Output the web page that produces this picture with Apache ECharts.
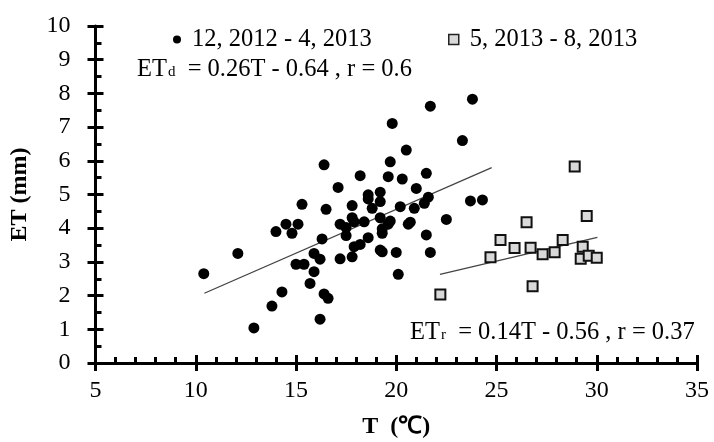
<!DOCTYPE html>
<html><head><meta charset="utf-8">
<script src="https://cdn.jsdelivr.net/npm/echarts@6/dist/echarts.min.js"></script>
<style>html,body{margin:0;padding:0;background:#fff}#c{width:714px;height:442px}</style>
</head><body><div id="c"></div>
<script>
// Dec 2012 - Apr 2013 (black dots)
const winterT = [10.4,12.1,12.9,13.8,14.3, 14.0,14.5,15.1,14.8,15.3, 16.4,16.5,16.3,15.9,16.2, 15.0,15.4,15.9,15.7,16.4,
  16.6,16.2,23.8,21.7,19.8, 23.3,20.5,19.7,18.2,19.6, 20.3,21.5,17.1,21.0,18.6, 19.2,18.6,19.2,21.6,21.4,
  17.8,23.7,24.3,20.2,18.8, 20.9,17.2,17.5,17.8,17.9, 18.4,17.5,18.6,19.2,19.3, 19.3,19.7,19.6,20.6,20.7,
  22.5,21.5,17.9,18.2,19.2, 19.3,20.0,21.7,17.2,17.8, 20.1];
const winterET = [2.65,3.25,1.04,1.69,2.11, 3.9,4.12,4.12,3.85,4.71, 5.88,4.56,3.68,3.25,3.08, 2.93,2.93,2.71,2.36,2.05,
  1.92,1.3,7.83,7.62,7.11, 6.6,6.32,5.97,5.56,5.53, 5.46,5.63,5.21,5.18,4.99, 5.07,4.87,4.79,4.92,4.74,
  4.67,4.81,4.84,4.64,4.59, 4.59,4.12,4.02,4.31,4.19, 4.19,3.78,3.72,4.31,3.98, 3.85,4.21,4.12,4.12,4.18,
  4.26,3.8,3.45,3.52,3.35, 3.3,3.28,3.28,3.09,3.15, 2.63];
// May 2013 - Aug 2013 (grey squares)
const summerT = [28.9,29.5,26.5,25.2,25.9,26.7,27.3,27.9,28.3,29.3,29.2,29.6,30.0,24.7,26.8,22.2];
const summerET = [5.83,4.36,4.18,3.65,3.41,3.42,3.23,3.29,3.65,3.45,3.09,3.18,3.12,3.14,2.28,2.03];
// fitted lines (end points)
const winterFitT = [10.43, 24.76];
const winterFitET = [2.07, 5.80];
const summerFitT = [22.18, 30.03];
const summerFitET = [2.63, 3.73];
const seriesNames = ['12, 2012 - 4, 2013', '5, 2013 - 8, 2013'];
const xRange = [5, 35, 5];
const yRange = [0, 10, 1];

const zip = (a, b) => a.map((v, i) => [v, b[i]]);
const FF = 'Liberation Serif';
const black = '#000';
const TXT = 24.5;

const baseX = {
  type: 'value', min: xRange[0], max: xRange[1], interval: xRange[2], position: 'bottom',
  splitLine: { show: false }
};
const baseY = {
  type: 'value', min: yRange[0], max: yRange[1], interval: yRange[2], position: 'left',
  splitLine: { show: false }
};

const chart = echarts.init(document.getElementById('c'), null, { renderer: 'canvas' });
chart.setOption({
  backgroundColor: '#fff',
  animation: false,
  grid: { left: 95.5, right: 17, top: 26, bottom: 79, containLabel: false, outerBoundsMode: 'none' },
  xAxis: [
    Object.assign({}, baseX, {
      axisLine: { onZero: false, lineStyle: { color: black, width: 3 } },
      axisTick: { inside: true, length: 8, lineStyle: { color: black, width: 3 } },
      minorTick: { show: true, splitNumber: 5, length: 6, lineStyle: { color: black, width: 3 } },
      axisLabel: { color: black, fontSize: 24, fontFamily: FF, margin: 16 },
      name: 'T  (\u2103)', nameLocation: 'middle', nameGap: 52,
      nameTextStyle: { color: black, fontSize: 24, fontWeight: 'bold', fontFamily: FF }
    }),
    Object.assign({}, baseX, {
      axisLine: { show: false, onZero: false },
      axisTick: { inside: false, length: 8, lineStyle: { color: black, width: 3 } },
      axisLabel: { show: false }
    })
  ],
  yAxis: [
    Object.assign({}, baseY, {
      axisLine: { onZero: false, lineStyle: { color: black, width: 3 } },
      axisTick: { inside: true, length: 8, lineStyle: { color: black, width: 3 } },
      minorTick: { show: true, splitNumber: 2, length: 6, lineStyle: { color: black, width: 3 } },
      axisLabel: { color: black, fontSize: 24, fontFamily: FF, margin: 25 },
      name: 'ET (mm)', nameLocation: 'middle', nameGap: 64, nameRotate: 90,
      nameTextStyle: { color: black, fontSize: 24, fontWeight: 'bold', fontFamily: FF }
    }),
    Object.assign({}, baseY, {
      axisLine: { show: false, onZero: false },
      axisTick: { inside: false, length: 8, lineStyle: { color: black, width: 3 } },
      axisLabel: { show: false }
    })
  ],
  legend: [
    { data: [seriesNames[0]], left: 168, top: 22, itemWidth: 8, itemHeight: 8, icon: 'circle',
      textStyle: { color: black, fontSize: TXT, fontFamily: FF, padding: [0, 0, 0, 6] } },
    { data: [seriesNames[1]], left: 443, top: 22, itemWidth: 10, itemHeight: 10, icon: 'rect',
      itemStyle: { color: '#d9d9d9', borderColor: '#222', borderWidth: 1.5 },
      textStyle: { color: black, fontSize: TXT, fontFamily: FF, padding: [0, 0, 0, 6] } }
  ],
  graphic: [
    { type: 'text', left: 137, top: 57, silent: true,
      style: { text: '{a|ET}{s|d}{a|  = 0.26T - 0.64 , r = 0.6}', fill: black,
        rich: { a: { fontSize: TXT, fontFamily: FF, fill: black }, s: { fontSize: 15, fontFamily: FF, fill: black, padding: [6, 0, 0, 1] } } } },
    { type: 'text', left: 410, top: 320, silent: true,
      style: { text: '{a|ET}{s|r}{a|  = 0.14T - 0.56 , r = 0.37}', fill: black,
        rich: { a: { fontSize: TXT, fontFamily: FF, fill: black }, s: { fontSize: 15, fontFamily: FF, fill: black, padding: [6, 0, 0, 1] } } } }
  ],
  series: [
    { type: 'line', data: zip(winterFitT, winterFitET), showSymbol: false, symbol: 'none',
      lineStyle: { color: '#444', width: 1.3 }, silent: true, z: 1 },
    { type: 'line', data: zip(summerFitT, summerFitET), showSymbol: false, symbol: 'none',
      lineStyle: { color: '#444', width: 1.3 }, silent: true, z: 1 },
    { name: seriesNames[0], type: 'scatter', data: zip(winterT, winterET), symbol: 'circle', symbolSize: 11,
      itemStyle: { color: black, opacity: 1 }, z: 3 },
    { name: seriesNames[1], type: 'scatter', data: zip(summerT, summerET), symbol: 'rect', symbolSize: 10,
      itemStyle: { color: '#d9d9d9', borderColor: '#111', borderWidth: 2, opacity: 1 }, z: 3 }
  ]
});
</script></body></html>
